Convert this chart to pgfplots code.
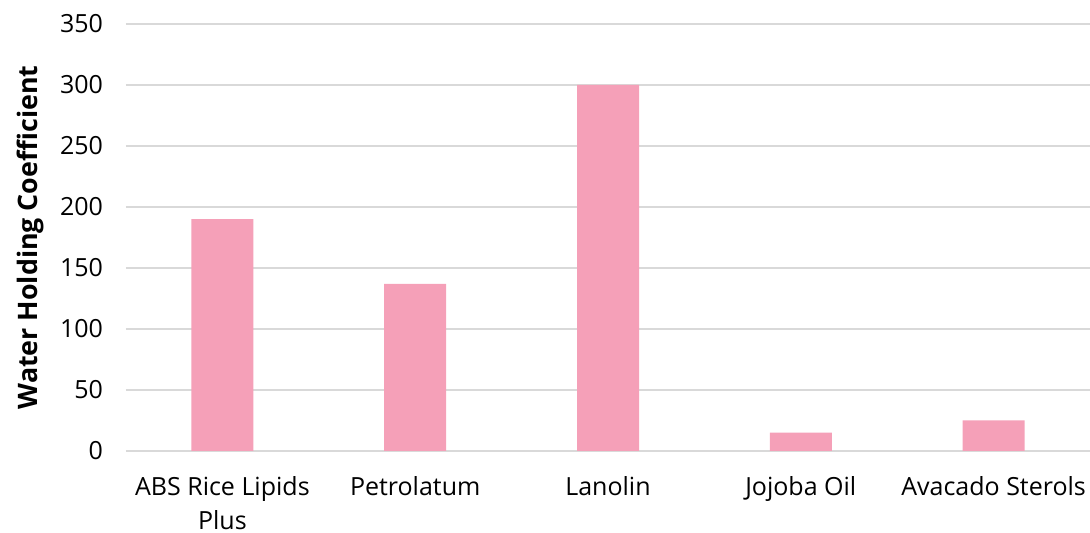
\documentclass[border=0pt]{standalone}
\usepackage{fontspec}
\setmainfont{Open Sans}
\usepackage{pgfplots}
\pgfplotsset{compat=1.18}
\definecolor{barpink}{RGB}{245,160,184}
\definecolor{gridgray}{RGB}{217,217,217}
\begin{document}
\begin{tikzpicture}
\begin{axis}[
  scale only axis,
  width=482pt, height=213.5pt,
  xmin=-0.5, xmax=4.5,
  ymin=0, ymax=350,
  ytick={0,50,...,350},
  xtick=data,
  xticklabels={{ABS Rice Lipids\\Plus},Petrolatum,Lanolin,Jojoba Oil,Avacado Sterols},
  xticklabel style={align=center, font=\fontsize{12.5}{17}\selectfont, yshift=-9pt},
  yticklabel style={font=\fontsize{12.5}{17}\selectfont, xshift=-8pt},
  /pgf/number format/assume math mode=true,
  axis line style={draw=none},
  major tick length=0pt,
  ymajorgrids,
  grid style={draw=gridgray, line width=0.8pt},
  ylabel={Water Holding Coefficient},
  ylabel style={at={(axis description cs:-0.0996,0.5)}, anchor=center, font=\fontsize{13.4}{17}\selectfont\bfseries},
  ybar, bar width=31pt,
  clip=false,
]
\addplot[fill=barpink, draw=none] coordinates {(0,190) (1,137) (2,300) (3,15) (4,25)};
\end{axis}
\pgfresetboundingbox
\path ([xshift=-63pt,yshift=-41pt]current axis.south west) rectangle ([yshift=12pt]current axis.north east);
\end{tikzpicture}
\end{document}
